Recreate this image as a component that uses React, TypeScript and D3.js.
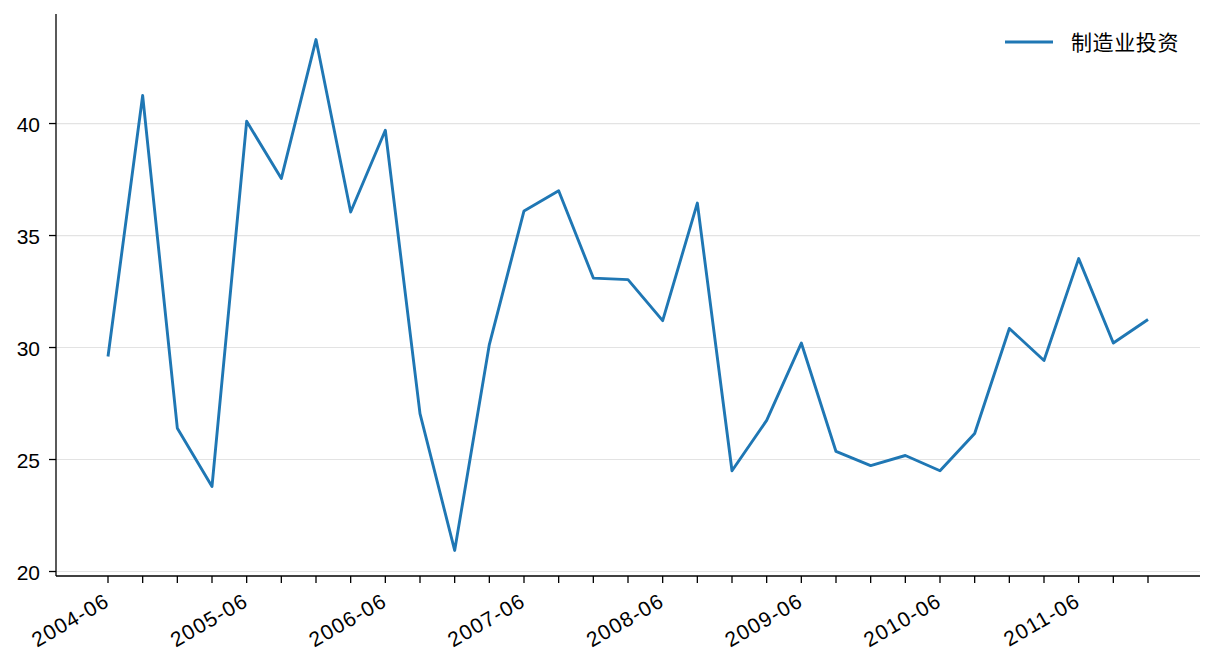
import React from "react";
import * as d3 from "d3";

const periods = [
  "2004-06", "2004-09", "2004-12", "2005-03",
  "2005-06", "2005-09", "2005-12", "2006-03",
  "2006-06", "2006-09", "2006-12", "2007-03",
  "2007-06", "2007-09", "2007-12", "2008-03",
  "2008-06", "2008-09", "2008-12", "2009-03",
  "2009-06", "2009-09", "2009-12", "2010-03",
  "2010-06", "2010-09", "2010-12", "2011-03",
  "2011-06", "2011-09", "2011-12",
];

const investment = [
  29.6, 41.25, 26.4, 23.8,
  40.1, 37.55, 43.75, 36.05,
  39.7, 27.05, 20.94, 30.13,
  36.1, 37.0, 33.1, 33.03,
  31.2, 36.45, 24.5, 26.75,
  30.2, 25.36, 24.73, 25.18,
  24.5, 26.16, 30.85, 29.42,
  33.97, 30.2, 31.25,
];

const yTicks = [20, 25, 30, 35, 40];
const seriesName = "制造业投资";

const width = 1216;
const height = 672;
const margin = { top: 14, right: 16, bottom: 96, left: 56 };
const font = "Arial, 'Liberation Sans', 'Noto Sans CJK SC', sans-serif";
const color = "#1f77b4";

const App: React.FC = () => {
  const innerW = width - margin.left - margin.right;
  const innerH = height - margin.top - margin.bottom;

  // matplotlib-like 5% margins
  const n = periods.length;
  const padX = (n - 1) * 0.05;
  const x = d3.scaleLinear().domain([-padX, n - 1 + padX]).range([0, innerW]);

  const yMin = d3.min(investment) as number;
  const yMax = d3.max(investment) as number;
  const padY = (yMax - yMin) * 0.05;
  const y = d3.scaleLinear().domain([yMin - padY, yMax + padY]).range([innerH, 0]);

  const line = d3
    .line<number>()
    .x((_, i) => x(i))
    .y((d) => y(d));

  return (
    <svg width={width} height={height} style={{ display: "block", margin: "-8px" }}>
      <rect width={width} height={height} fill="white" />
      <g transform={`translate(${margin.left},${margin.top})`} fontFamily={font}>
        {/* grid */}
        {yTicks.map((t) => (
          <line key={`g${t}`} x1={0} x2={innerW} y1={y(t)} y2={y(t)} stroke="#e3e3e3" strokeWidth={1.2} />
        ))}

        <path d={line(investment) || ""} fill="none" stroke={color} strokeWidth={2.9} strokeLinejoin="round" />

        {/* spines */}
        <line x1={0} x2={0} y1={0} y2={innerH} stroke="black" strokeWidth={1.3} />
        <line x1={0} x2={innerW} y1={innerH} y2={innerH} stroke="black" strokeWidth={1.3} />

        {/* y axis */}
        {yTicks.map((t) => (
          <g key={`y${t}`} transform={`translate(0,${y(t)})`}>
            <line x1={-7} x2={0} stroke="black" strokeWidth={1.3} />
            <text x={-16} dy="0.42em" textAnchor="end" fontSize={21} fill="black">
              {t}
            </text>
          </g>
        ))}

        {/* x axis */}
        {periods.map((p, i) => (
          <g key={p} transform={`translate(${x(i)},${innerH})`}>
            <line y1={0} y2={7} stroke="black" strokeWidth={1.3} />
            {p.endsWith("-06") && (
              <text
                transform="translate(3,29) rotate(-30)"
                textAnchor="end"
                fontSize={21}
                letterSpacing={1.2}
                fill="black"
              >
                {p}
              </text>
            )}
          </g>
        ))}

        {/* legend */}
        <g transform={`translate(${1005 - margin.left},${42 - margin.top})`}>
          <line x1={0} x2={48} y1={0} y2={0} stroke={color} strokeWidth={3.2} />
          <text
            x={66}
            dy="0.36em"
            fontSize={21}
            letterSpacing={0.6}
            fill="black"
            fontFamily="'Noto Sans CJK SC', sans-serif"
          >
            {seriesName}
          </text>
        </g>
      </g>
    </svg>
  );
};

export default App;
